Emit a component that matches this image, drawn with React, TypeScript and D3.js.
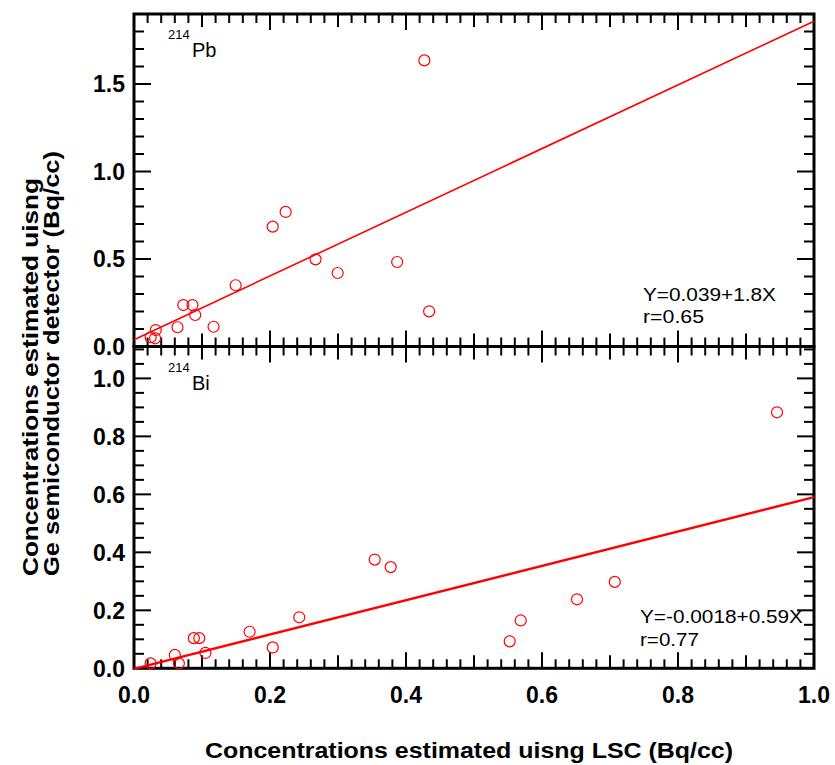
import React from "react";
import * as d3 from "d3";

// 214Pb panel (top)
const pbX = [0.0245, 0.031, 0.032, 0.064, 0.0725, 0.086, 0.09, 0.117, 0.1495, 0.204, 0.223, 0.267, 0.2995, 0.387, 0.427, 0.434];
const pbY = [0.053, 0.047, 0.094, 0.11, 0.237, 0.237, 0.18, 0.113, 0.35, 0.685, 0.769, 0.498, 0.42, 0.483, 1.635, 0.201];
const pbFit = [0.039, 1.82]; // intercept, slope as drawn

// 214Bi panel (bottom)
const biX = [0.0245, 0.06, 0.066, 0.088, 0.096, 0.105, 0.17, 0.204, 0.243, 0.354, 0.3775, 0.5525, 0.5687, 0.6515, 0.707, 0.9456];
const biY = [0.017, 0.046, 0.017, 0.104, 0.104, 0.053, 0.126, 0.072, 0.176, 0.375, 0.349, 0.093, 0.165, 0.238, 0.298, 0.883];
const biFit = [-0.0018, 0.592];

const xTickLabels = [0, 0.2, 0.4, 0.6, 0.8, 1.0];
const pbYTickLabels = [0, 0.5, 1.0, 1.5];
const biYTickLabels = [0, 0.2, 0.4, 0.6, 0.8, 1.0];

const FONT = "'Liberation Sans', Arial, Helvetica, sans-serif";
const RED = "#ff0000";

const left = 134;
const right = 814;
const x = d3.scaleLinear().domain([0, 1]).range([left, right]);
const fmt = d3.format(".1f");

type PanelProps = {
  top: number;
  bottom: number;
  yMax: number;
  yMinor: number; // minor step
  yMajorEvery: number; // major every n minor ticks
  yLabels: number[];
  xs: number[];
  ys: number[];
  fit: number[];
  fitWidth: number;
  nuclide: string;
};

function Panel(p: PanelProps) {
  const y = d3.scaleLinear().domain([0, p.yMax]).range([p.bottom, p.top]);
  const nY = Math.floor(p.yMax / p.yMinor + 1e-6);
  const yTicks = d3.range(1, nY + 1).map((i) => ({ v: i * p.yMinor, major: i % p.yMajorEvery === 0 }));
  const xTicks = d3.range(1, 50).map((i) => ({ v: i * 0.02, len: i % 10 === 0 ? 16 : i % 5 === 0 ? 13 : 9 }));
  const line = d3
    .line<number>()
    .x((d) => x(d))
    .y((d) => y(p.fit[0] + p.fit[1] * d));
  return (
    <g>
      {/* x ticks on top and bottom edges, pointing inward */}
      {xTicks.map((t, i) => (
        <g key={"xt" + i} stroke="#000" strokeWidth={2}>
          <line x1={x(t.v)} x2={x(t.v)} y1={p.top} y2={p.top + t.len} />
          <line x1={x(t.v)} x2={x(t.v)} y1={p.bottom} y2={p.bottom - t.len} />
        </g>
      ))}
      {/* y ticks on left and right edges */}
      {yTicks.map((t, i) => {
        const len = t.major ? 17 : 10;
        return (
          <g key={"yt" + i} stroke="#000" strokeWidth={2}>
            <line x1={left} x2={left + len} y1={y(t.v)} y2={y(t.v)} />
            <line x1={right} x2={right - len} y1={y(t.v)} y2={y(t.v)} />
          </g>
        );
      })}
      <rect x={left} y={p.top} width={right - left} height={p.bottom - p.top} fill="none" stroke="#000" strokeWidth={3} />
      {p.yLabels.map((v) => (
        <text key={"yl" + v} x={125} y={y(v)} dy="0.36em" textAnchor="end" fontFamily={FONT} fontWeight="bold" fontSize={23}>
          {fmt(v)}
        </text>
      ))}
      <path d={line([0, 1]) || ""} fill="none" stroke={RED} strokeWidth={p.fitWidth} />
      {p.xs.map((xv, i) => (
        <circle key={"pt" + i} cx={x(xv)} cy={y(p.ys[i])} r={5.5} fill="none" stroke={RED} strokeWidth={1.2} />
      ))}
      <text fontFamily={FONT} x={168} y={p.top + 25} fontSize={13}>
        214
      </text>
      <text fontFamily={FONT} x={192} y={p.top + 43} fontSize={20}>
        {p.nuclide}
      </text>
    </g>
  );
}

export default function App() {
  return (
    <svg width={835} height={765} style={{ position: "absolute", left: 0, top: 0, background: "#fff" }}>
      <rect width={835} height={765} fill="#fff" />
      <Panel top={14} bottom={346.5} yMax={1.9} yMinor={0.1} yMajorEvery={5} yLabels={pbYTickLabels} xs={pbX} ys={pbY} fit={pbFit} fitWidth={1.6} nuclide="Pb" />
      <Panel top={346.5} bottom={668.3} yMax={1.11} yMinor={0.05} yMajorEvery={4} yLabels={biYTickLabels} xs={biX} ys={biY} fit={biFit} fitWidth={2.4} nuclide="Bi" />
      {/* regression annotations */}
      <g fontFamily={FONT} fontSize={19}>
        <text x={643} y={301} textLength={133} lengthAdjust="spacingAndGlyphs">Y=0.039+1.8X</text>
        <text x={643} y={323} textLength={61} lengthAdjust="spacingAndGlyphs">r=0.65</text>
        <text x={640} y={623} textLength={163} lengthAdjust="spacingAndGlyphs">Y=-0.0018+0.59X</text>
        <text x={640} y={646} textLength={59} lengthAdjust="spacingAndGlyphs">r=0.77</text>
      </g>
      {xTickLabels.map((v) => (
        <text key={"xl" + v} x={x(v)} y={703} textAnchor="middle" fontFamily={FONT} fontWeight="bold" fontSize={23}>
          {fmt(v)}
        </text>
      ))}
      <text x={469} y={758} textAnchor="middle" fontFamily={FONT} fontWeight="bold" fontSize={22} textLength={528} lengthAdjust="spacingAndGlyphs">
        Concentrations estimated uisng LSC (Bq/cc)
      </text>
      <g fontFamily={FONT} fontWeight="bold" fontSize={22}>
        <text transform="translate(38,576) rotate(-90)" textLength={398} lengthAdjust="spacingAndGlyphs">
          Concentrations estimated uisng
        </text>
        <text transform="translate(59,576) rotate(-90)" textLength={425} lengthAdjust="spacingAndGlyphs">
          Ge semiconductor detector (Bq/cc)
        </text>
      </g>
    </svg>
  );
}
